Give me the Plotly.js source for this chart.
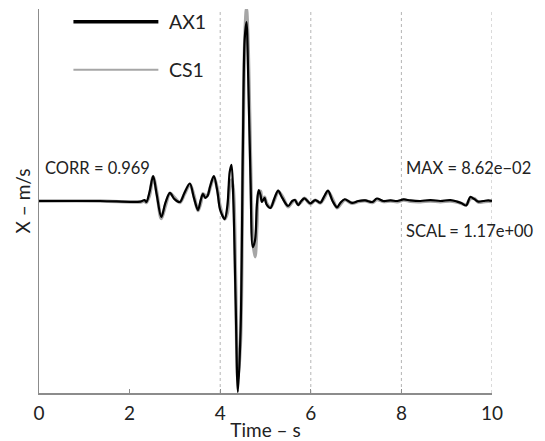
<!DOCTYPE html>
<html>
<head>
<meta charset="utf-8">
<script src="https://cdn.plot.ly/plotly-3.0.1.min.js"></script>
<style>html,body{margin:0;padding:0;background:#fff;}#chart{width:545px;height:441px;}</style>
</head>
<body>
<div id="chart"></div>
<script>
// Time axis (s)
const timeS = [0, 1.35, 2.24, 2.33, 2.37, 2.44, 2.52, 2.60, 2.70, 2.79,
  2.89, 2.99, 3.11, 3.21, 3.33, 3.42, 3.51, 3.57, 3.62, 3.67,
  3.72, 3.78, 3.86, 3.94, 4.00, 4.10, 4.16, 4.21, 4.25, 4.29,
  4.34, 4.39, 4.45, 4.50, 4.54, 4.58, 4.62, 4.67, 4.72, 4.77,
  4.81, 4.85, 4.89, 4.92, 4.98, 5.02, 5.11, 5.20, 5.28, 5.37,
  5.50, 5.59, 5.65, 5.72, 5.79, 5.86, 5.99, 6.10, 6.21, 6.30,
  6.38, 6.48, 6.58, 6.65, 6.75, 6.91, 7.05, 7.20, 7.36, 7.46,
  7.60, 7.76, 7.91, 8.05, 8.20, 8.42, 8.64, 8.86, 9.08, 9.23,
  9.32, 9.43, 9.52, 9.61, 9.70, 9.81, 9.92, 10.0];
// Velocity relative to MAX (plot spans -MAX .. +MAX)
const ax1 = [0, 0, -0.003, 0.005, -0.005, 0.047, 0.130, 0.031, -0.083, -0.010,
  0.042, 0.010, -0.005, 0.042, 0.091, 0.016, -0.047, 0.005, 0.036, 0.016,
  0.026, 0.078, 0.130, 0.047, -0.047, -0.094, -0.021, 0.151, 0.188, 0.005,
  -0.516, -0.995, -0.672, 0.266, 0.839, 0.932, 0.630, 0.109, -0.240, -0.203,
  -0.021, 0.057, 0.031, -0.005, 0.016, -0.016, -0.036, 0.016, 0.054, 0.016,
  -0.026, 0, 0.005, -0.021, 0, 0.014, -0.012, 0.005, -0.009, 0.026,
  0.054, 0, -0.033, -0.010, 0.009, -0.010, 0, 0.003, -0.005, 0.013,
  0, 0.003, 0, 0.008, 0.003, 0, 0.005, 0, 0.005, -0.003,
  -0.010, -0.023, 0.021, 0.010, -0.003, 0, 0.003, 0];
const cs1 = [0, 0, -0.005, 0.0, -0.008, 0.030, 0.125, 0.045, -0.092, -0.025,
  0.040, 0.018, -0.008, 0.035, 0.088, 0.028, -0.050, -0.010, 0.038, 0.028,
  0.030, 0.070, 0.125, 0.060, -0.030, -0.094, -0.060, 0.080, 0.110, 0.060,
  -0.410, -0.930, -0.720, 0.200, 0.820, 1.000, 0.780, 0.210, -0.200, -0.290,
  -0.130, 0.045, 0.050, 0.010, 0.020, -0.008, -0.034, 0.008, 0.050, 0.025,
  -0.030, -0.006, 0.004, -0.018, -0.004, 0.014, -0.014, 0.004, -0.010, 0.018,
  0.050, 0.010, -0.036, -0.018, 0.006, -0.012, -0.003, 0.001, -0.008, 0.008,
  -0.003, 0.0, -0.004, 0.005, -0.002, -0.004, 0.0, -0.004, 0.0, -0.006,
  -0.012, -0.020, 0.012, 0.012, -0.006, -0.004, -0.002, -0.003];
const seriesNames = ['AX1', 'CS1'];
const seriesColors = ['#000000', '#a6a6a6'];
const xTicks = [0, 2, 4, 6, 8, 10];
const gridTimes = [4, 6, 8, 10];
const statLabels = ['CORR = 0.969', 'MAX = 8.62e\u221202', 'SCAL = 1.17e+00'];

const FONT = 'Lato, "Open Sans", "DejaVu Sans", sans-serif';
const TXT = '#222222';

const traces = [
  {x: timeS, y: cs1, type: 'scatter', mode: 'lines', name: seriesNames[1],
   line: {color: seriesColors[1], width: 3.4, shape: 'spline', smoothing: 0.9}, showlegend: false},
  {x: timeS, y: ax1, type: 'scatter', mode: 'lines', name: seriesNames[0],
   line: {color: seriesColors[0], width: 2.2, shape: 'spline', smoothing: 0.9}, showlegend: false}
];

const shapes = gridTimes.map(t => ({
  type: 'line', xref: 'x', yref: 'paper', x0: t, x1: t, y0: 0, y1: 1, layer: 'below',
  line: {color: '#b5b5b5', width: 1, dash: 'dot'}
}));
// custom legend swatches
const legY = [0.967, 0.842];
const legW = [3.5, 2];
seriesNames.forEach((n, i) => {
  shapes.push({type: 'line', xref: 'paper', yref: 'paper', x0: 0.076, x1: 0.2635,
    y0: legY[i], y1: legY[i], line: {color: seriesColors[i], width: legW[i]}});
});

const annotations = seriesNames.map((n, i) => ({
  text: n, xref: 'paper', yref: 'paper', x: 0.282, y: legY[i], xanchor: 'left', yanchor: 'middle',
  showarrow: false, font: {family: FONT, size: 19.5, color: TXT}
}));
const statFont = {family: FONT, size: 16.5, color: TXT};
annotations.push(
  {text: statLabels[0], xref: 'paper', yref: 'paper', x: 0.008, y: 0.586, xanchor: 'left', yanchor: 'middle',
   showarrow: false, font: statFont},
  {text: statLabels[1], xref: 'paper', yref: 'paper', x: 0.806, y: 0.586, xanchor: 'left', yanchor: 'middle',
   showarrow: false, font: statFont},
  {text: statLabels[2], xref: 'paper', yref: 'paper', x: 0.806, y: 0.421, xanchor: 'left', yanchor: 'middle',
   showarrow: false, font: statFont}
);

const layout = {
  width: 545, height: 441,
  margin: {l: 39, r: 53, t: 9, b: 48, pad: 0},
  paper_bgcolor: '#fff', plot_bgcolor: '#fff',
  font: {family: FONT, color: TXT},
  showlegend: false,
  xaxis: {
    range: [0, 10], tickvals: xTicks, ticktext: xTicks.map(String),
    ticks: 'inside', ticklen: 4, tickcolor: '#8c8c8c', tickwidth: 1,
    showline: true, linecolor: '#8c8c8c', linewidth: 1.5, mirror: false,
    showgrid: false, zeroline: false,
    tickfont: {family: FONT, size: 19, color: TXT},
    title: {text: 'Time \u2013 s', font: {family: FONT, size: 19, color: TXT}, standoff: 7},
    automargin: false
  },
  yaxis: {
    range: [-1, 1], showline: true, linecolor: '#8c8c8c', linewidth: 1.5,
    showticklabels: false, ticks: '', showgrid: false, zeroline: false,
    title: {text: 'X \u2013 m/s', font: {family: FONT, size: 19, color: TXT}, standoff: 2},
    automargin: false
  },
  shapes: shapes,
  annotations: annotations
};

Plotly.newPlot('chart', traces, layout, {displayModeBar: false, staticPlot: true});

// nudge x tick labels down a few pixels to match reference spacing
const gd = document.getElementById('chart');
gd.querySelectorAll('.xtick text').forEach(el => {
  const y = parseFloat(el.getAttribute('y') || '0');
  el.setAttribute('y', String(y + 3));
});
</script>
</body>
</html>
